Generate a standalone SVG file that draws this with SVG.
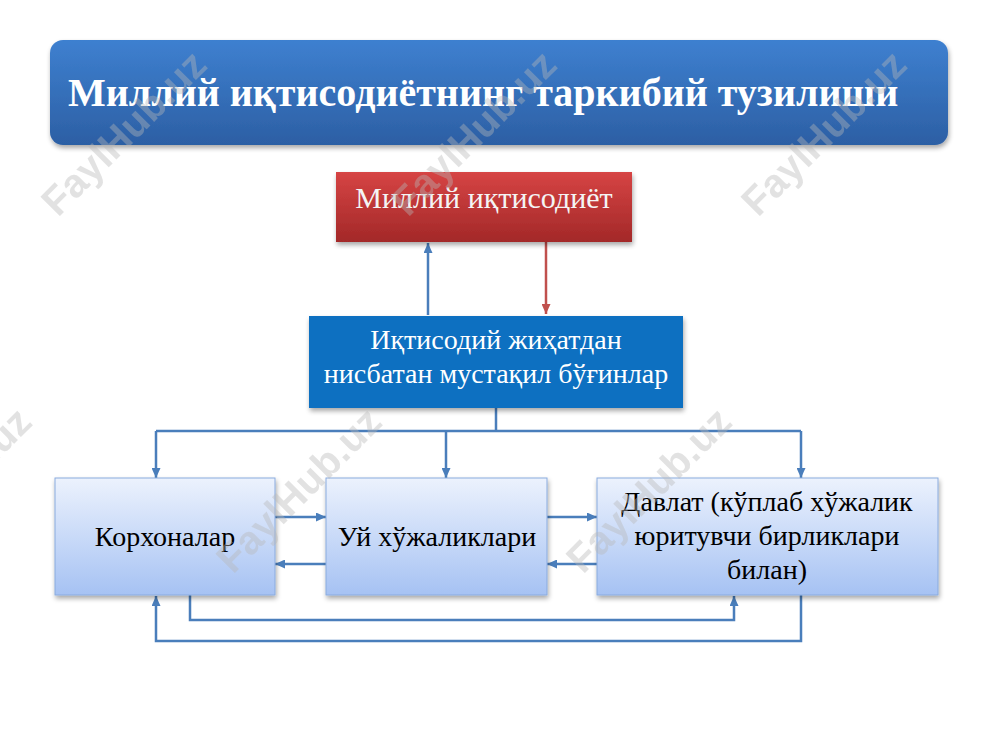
<svg xmlns="http://www.w3.org/2000/svg" width="1000" height="750" viewBox="0 0 1000 750">
<defs>
<linearGradient id="gTitle" x1="0" y1="0" x2="0" y2="1">
<stop offset="0" stop-color="#3e80d0"/>
<stop offset="1" stop-color="#2c5fa4"/>
</linearGradient>
<linearGradient id="gRed" x1="0" y1="0" x2="0" y2="1">
<stop offset="0" stop-color="#d64444"/>
<stop offset="1" stop-color="#a32828"/>
</linearGradient>
<linearGradient id="gLight" x1="0" y1="0" x2="0" y2="1">
<stop offset="0" stop-color="#ecf2fd"/>
<stop offset="1" stop-color="#a6c2f3"/>
</linearGradient>
<filter id="sh" x="-10%" y="-10%" width="120%" height="130%">
<feGaussianBlur in="SourceAlpha" stdDeviation="2.5"/>
<feOffset dx="1" dy="3" result="b"/>
<feComponentTransfer><feFuncA type="linear" slope="0.35"/></feComponentTransfer>
<feMerge><feMergeNode/><feMergeNode in="SourceGraphic"/></feMerge>
</filter>
<marker id="ab" markerUnits="userSpaceOnUse" markerWidth="10" markerHeight="9" refX="10" refY="4.5" orient="auto">
<path d="M0,0 L10,4.5 L0,9 z" fill="#4a7ebb"/>
</marker>
<marker id="ar" markerUnits="userSpaceOnUse" markerWidth="10" markerHeight="9" refX="10" refY="4.5" orient="auto">
<path d="M0,0 L10,4.5 L0,9 z" fill="#c0504d"/>
</marker>
</defs>
<style>
.t{font-family:"Liberation Serif","Times New Roman",serif;text-anchor:middle;}
.lb{fill:url(#gLight);stroke:#8aabde;stroke-width:1;}
.c{fill:none;stroke:#4a7ebb;stroke-width:2.5;}
.cr{fill:none;stroke:#c0504d;stroke-width:2.5;}
.wm{font-family:"Liberation Sans",Arial,sans-serif;font-weight:bold;font-size:40px;fill:#b8b8b8;opacity:0.4;}
</style>
<rect width="1000" height="750" fill="#ffffff"/>

<g id="title">
<rect x="50" y="40" width="898" height="105" rx="13" fill="url(#gTitle)" filter="url(#sh)"/>
<text x="68" y="106" font-family="Liberation Serif,'Times New Roman',serif" font-weight="bold" font-size="40" fill="#ffffff">Миллий иқтисодиётнинг таркибий тузилиши</text>
</g>

<g id="connectors">
<path class="c" d="M428,315 V243" marker-end="url(#ab)"/>
<path class="cr" d="M546,242 V314" marker-end="url(#ar)"/>
<path class="c" d="M496,408 V431"/>
<path class="c" d="M156,431 H801"/>
<path class="c" d="M156,431 V478" marker-end="url(#ab)"/>
<path class="c" d="M446,431 V478" marker-end="url(#ab)"/>
<path class="c" d="M801,431 V478" marker-end="url(#ab)"/>
<path class="c" d="M275,517 H326" marker-end="url(#ab)"/>
<path class="c" d="M326,564 H275" marker-end="url(#ab)"/>
<path class="c" d="M547,517 H597" marker-end="url(#ab)"/>
<path class="c" d="M597,564 H547" marker-end="url(#ab)"/>
<path class="c" d="M190,595 V620 H734 V596" marker-end="url(#ab)"/>
<path class="c" d="M801,595 V641 H156 V596" marker-end="url(#ab)"/>
</g>

<g id="national">
<rect x="336" y="172" width="296" height="70" fill="url(#gRed)" filter="url(#sh)"/>
<text class="t" x="484" y="208" font-size="30" fill="#f4f4f4">Миллий иқтисодиёт</text>
</g>

<g id="units">
<rect x="309" y="316" width="374" height="92" fill="#0d6fc1" filter="url(#sh)"/>
<text class="t" x="496" y="349" font-size="28" fill="#ffffff">Иқтисодий жиҳатдан</text>
<text class="t" x="496" y="383" font-size="28" fill="#ffffff">нисбатан мустақил бўғинлар</text>
</g>

<g id="enterprises">
<rect class="lb" x="55" y="478" width="220" height="117" filter="url(#sh)"/>
<text class="t" x="165" y="546" font-size="28" fill="#000000">Корхоналар</text>
</g>

<g id="households">
<rect class="lb" x="326" y="478" width="221" height="117" filter="url(#sh)"/>
<text class="t" x="437" y="546" font-size="28" fill="#000000">Уй хўжаликлари</text>
</g>

<g id="state">
<rect class="lb" x="597" y="478" width="341" height="117" filter="url(#sh)"/>
<text class="t" x="767" y="511" font-size="28" fill="#000000">Давлат (кўплаб хўжалик</text>
<text class="t" x="767" y="545" font-size="28" fill="#000000">юритувчи бирликлари</text>
<text class="t" x="767" y="579" font-size="28" fill="#000000">билан)</text>
</g>

<g id="watermarks">
<text class="wm" transform="translate(58,218) rotate(-45)">FaylHub.uz</text>
<text class="wm" transform="translate(408,218) rotate(-45)">FaylHub.uz</text>
<text class="wm" transform="translate(758,218) rotate(-45)">FaylHub.uz</text>
<text class="wm" transform="translate(-117,575) rotate(-45)">FaylHub.uz</text>
<text class="wm" transform="translate(233,575) rotate(-45)">FaylHub.uz</text>
<text class="wm" transform="translate(583,575) rotate(-45)">FaylHub.uz</text>
</g>
</svg>
